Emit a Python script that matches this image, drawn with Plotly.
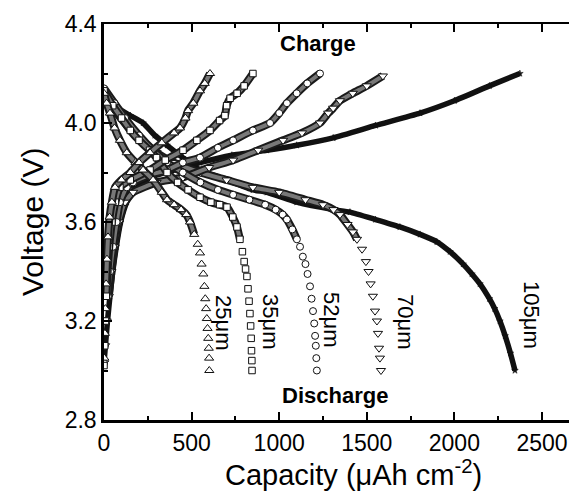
import plotly.graph_objects as go

# ---------------- data ----------------
cells = ["25μm", "35μm", "52μm", "70μm", "105μm"]

dis_cap_25 = [0, 15, 34, 60, 91, 130, 180, 223, 280, 330, 360, 400, 440, 470, 491, 515, 535, 548, 557, 567, 573, 578, 583, 587, 591, 595, 598, 600, 601]
dis_v_25 = [4.12, 4.08, 4.04, 3.98, 3.93, 3.88, 3.84, 3.81, 3.77, 3.72, 3.69, 3.67, 3.65, 3.63, 3.60, 3.55, 3.51, 3.475, 3.43, 3.39, 3.34, 3.29, 3.25, 3.21, 3.17, 3.13, 3.09, 3.05, 3.00]
chg_cap_25 = [2, 5, 8, 12, 17, 23, 32, 45, 63, 100, 150, 200, 263, 330, 400, 434, 465, 480, 510, 548, 575, 605]
chg_v_25 = [3.05, 3.15, 3.25, 3.35, 3.45, 3.54, 3.62, 3.68, 3.74, 3.77, 3.80, 3.84, 3.88, 3.92, 3.96, 3.98, 4.02, 4.05, 4.08, 4.13, 4.16, 4.20]

dis_cap_35 = [0, 50, 100, 150, 200, 260, 300, 360, 420, 480, 548, 610, 660, 702, 735, 759, 776, 790, 800, 808, 816, 822, 828, 833, 837, 840, 842, 844, 845]
dis_v_35 = [4.13, 4.07, 4.02, 3.97, 3.93, 3.89, 3.86, 3.80, 3.76, 3.73, 3.70, 3.68, 3.67, 3.66, 3.62, 3.58, 3.53, 3.48, 3.44, 3.41, 3.38, 3.33, 3.28, 3.23, 3.18, 3.13, 3.08, 3.04, 3.00]
chg_cap_35 = [0, 4, 8, 13, 20, 30, 45, 65, 91, 150, 263, 350, 451, 530, 605, 660, 690, 700, 720, 760, 800, 850]
chg_v_35 = [3.02, 3.10, 3.20, 3.30, 3.40, 3.50, 3.60, 3.68, 3.74, 3.77, 3.81, 3.85, 3.89, 3.93, 3.97, 4.01, 4.03, 4.07, 4.10, 4.12, 4.15, 4.20]

dis_cap_52 = [0, 60, 120, 200, 280, 360, 450, 550, 650, 737, 830, 920, 980, 1020, 1044, 1075, 1101, 1119, 1135, 1150, 1162, 1176, 1185, 1193, 1200, 1205, 1209, 1212, 1215]
dis_v_52 = [4.14, 4.08, 4.02, 3.95, 3.89, 3.84, 3.80, 3.76, 3.73, 3.71, 3.69, 3.67, 3.65, 3.63, 3.61, 3.57, 3.53, 3.50, 3.46, 3.43, 3.39, 3.34, 3.29, 3.24, 3.19, 3.14, 3.10, 3.05, 3.00]
chg_cap_52 = [0, 5, 12, 22, 35, 52, 72, 91, 130, 166, 260, 360, 450, 548, 650, 737, 850, 948, 1000, 1044, 1100, 1160, 1233]
chg_v_52 = [3.03, 3.10, 3.20, 3.30, 3.40, 3.50, 3.60, 3.68, 3.74, 3.76, 3.79, 3.81, 3.84, 3.86, 3.90, 3.93, 3.97, 4.00, 4.04, 4.08, 4.12, 4.16, 4.20]

dis_cap_70 = [0, 60, 130, 200, 300, 400, 550, 700, 850, 1000, 1150, 1250, 1310, 1347, 1390, 1421, 1444, 1473, 1495, 1510, 1522, 1535, 1547, 1558, 1564, 1570, 1575, 1581]
dis_v_70 = [4.10, 4.05, 3.99, 3.94, 3.88, 3.84, 3.80, 3.77, 3.74, 3.72, 3.69, 3.67, 3.65, 3.63, 3.59, 3.56, 3.53, 3.49, 3.44, 3.40, 3.35, 3.30, 3.24, 3.20, 3.15, 3.09, 3.05, 3.00]
chg_cap_70 = [0, 6, 15, 27, 42, 60, 85, 120, 166, 300, 451, 600, 737, 880, 1022, 1130, 1233, 1280, 1308, 1347, 1420, 1500, 1592]
chg_v_70 = [3.03, 3.10, 3.20, 3.30, 3.40, 3.50, 3.60, 3.68, 3.72, 3.76, 3.78, 3.82, 3.85, 3.89, 3.93, 3.96, 4.00, 4.04, 4.06, 4.09, 4.12, 4.15, 4.19]

dis_cap_105 = [0, 17, 80, 150, 223, 290, 360, 450, 548, 700, 850, 930, 1100, 1308, 1404, 1550, 1689, 1804, 1900, 1975, 2050, 2100, 2146, 2200, 2230, 2260, 2290, 2320, 2346]
dis_v_105 = [4.13, 4.11, 4.06, 4.03, 4.00, 3.95, 3.91, 3.86, 3.81, 3.77, 3.73, 3.72, 3.68, 3.65, 3.64, 3.61, 3.58, 3.55, 3.52, 3.48, 3.43, 3.39, 3.35, 3.29, 3.25, 3.20, 3.14, 3.07, 3.00]
chg_cap_105 = [0, 8, 20, 34, 50, 70, 95, 130, 180, 263, 400, 548, 730, 930, 1100, 1308, 1550, 1804, 2000, 2200, 2374]
chg_v_105 = [3.03, 3.10, 3.20, 3.30, 3.40, 3.50, 3.60, 3.68, 3.74, 3.78, 3.81, 3.84, 3.87, 3.89, 3.91, 3.94, 3.99, 4.04, 4.09, 4.15, 4.20]

x_ticks = [0, 500, 1000, 1500, 2000, 2500]
y_ticks = [2.8, 3.2, 3.6, 4.0, 4.4]

curves = [
    (dis_cap_105, dis_v_105, chg_cap_105, chg_v_105),
    (dis_cap_70, dis_v_70, chg_cap_70, chg_v_70),
    (dis_cap_52, dis_v_52, chg_cap_52, chg_v_52),
    (dis_cap_35, dis_v_35, chg_cap_35, chg_v_35),
    (dis_cap_25, dis_v_25, chg_cap_25, chg_v_25),
]
symbols = ["star", "triangle-down", "circle", "square", "triangle-up"]
msizes = [5, 8, 7, 6.5, 8]

fig = go.Figure()

def band(xs, ys, star, vmin):
    bx = [x for x, y in zip(xs, ys) if y >= vmin]
    by = [y for y in ys if y >= vmin]
    if star:
        fig.add_trace(go.Scatter(x=bx, y=by, mode="lines", line=dict(color="#111111", width=5.5, shape="spline", smoothing=0.5), hoverinfo="skip", showlegend=False))
    else:
        fig.add_trace(go.Scatter(x=bx, y=by, mode="lines", line=dict(color="#1a1a1a", width=8, shape="spline", smoothing=0.5), hoverinfo="skip", showlegend=False))
        fig.add_trace(go.Scatter(x=bx, y=by, mode="lines", line=dict(color="#787878", width=4, shape="spline", smoothing=0.5), hoverinfo="skip", showlegend=False))

for (dc, dv, cc, cv), sym, ms in zip(curves, symbols, msizes):
    star = sym == "star"
    for xs, ys, vmin in ((dc, dv, 3.0 if star else 3.52), (cc, cv, 3.0 if star else 3.3)):
        band(xs, ys, star, vmin)
        if star:
            mk = dict(symbol="star", size=ms, color="#111111", line=dict(color="#111111", width=0.5))
        else:
            mk = dict(symbol=sym, size=ms, color="white", line=dict(color="#111111", width=1))
        fig.add_trace(go.Scatter(x=xs, y=ys, mode="markers", marker=mk, showlegend=False))

# invisible trace for the top axis
fig.add_trace(go.Scatter(x=[0], y=[3.0], xaxis="x2", mode="markers", marker=dict(opacity=0), showlegend=False, hoverinfo="skip"))

font = "Liberation Sans, Arial, sans-serif"
# the page body adds an 8px offset, so margins are shifted to place the plot area
fig.update_layout(
    width=577, height=491,
    margin=dict(l=96, r=8, t=16, b=79, autoexpand=False),
    paper_bgcolor="white", plot_bgcolor="white",
    showlegend=False,
    font=dict(family=font, color="black"),
    xaxis=dict(range=[0, 2700], tickvals=x_ticks, ticktext=[str(v) for v in x_ticks], automargin=False,
               showgrid=False, zeroline=False, showline=True, linecolor="black", linewidth=3,
               ticks="inside", ticklen=8, tickwidth=1.5, tickcolor="black",
               minor=dict(ticks="inside", ticklen=4, tickwidth=1.5, dtick=250, tickcolor="black", showgrid=False),
               tickfont=dict(size=23, family=font), ticklabelstandoff=0),
    xaxis2=dict(range=[0, 2700], overlaying="x", side="top", tickvals=x_ticks, showticklabels=False, automargin=False,
                showgrid=False, zeroline=False, showline=True, linecolor="black", linewidth=1.5,
                ticks="inside", ticklen=8, tickwidth=1.5, tickcolor="black",
                minor=dict(ticks="inside", ticklen=4, tickwidth=1.5, dtick=250, tickcolor="black", showgrid=False)),
    yaxis=dict(range=[2.8, 4.4], tickvals=y_ticks, ticktext=[f"{v:.1f}" for v in y_ticks], automargin=False,
               showgrid=False, zeroline=False, showline=True, linecolor="black", linewidth=2.5,
               ticks="inside", ticklen=8, tickwidth=1.5, tickcolor="black",
               minor=dict(ticks="inside", ticklen=4, tickwidth=1.5, dtick=0.2, tickcolor="black", showgrid=False),
               tickfont=dict(size=23, family=font), ticklabelstandoff=0),
)

ann = [
    dict(text="<b>Charge</b>", x=1221, y=4.323, size=22, angle=0),
    dict(text="<b>Discharge</b>", x=1318, y=2.901, size=22, angle=0),
    dict(text="25μm", x=679, y=3.192, size=22, angle=90),
    dict(text="35μm", x=947, y=3.196, size=22, angle=90),
    dict(text="52μm", x=1301, y=3.204, size=22, angle=90),
    dict(text="70μm", x=1718, y=3.196, size=22, angle=90),
    dict(text="105μm", x=2443, y=3.224, size=22, angle=90),
]
for a in ann:
    fig.add_annotation(x=a["x"], y=a["y"], xref="x", yref="y", text=a["text"], showarrow=False,
                       textangle=a["angle"], font=dict(size=a["size"], family=font, color="black"),
                       xanchor="center", yanchor="middle")

# axis titles
fig.add_annotation(x=(32 - 104) / 473, y=(420 - 222) / 396, xref="paper", yref="paper",
                   text="Voltage (V)", showarrow=False, textangle=-90,
                   font=dict(size=30, family=font, color="black"), xanchor="center", yanchor="middle")
fig.add_annotation(x=(353 - 104) / 473, y=(420 - 473) / 396, xref="paper", yref="paper",
                   text="Capacity (μAh cm<sup>-2</sup>)", showarrow=False,
                   font=dict(size=29, family=font, color="black"), xanchor="center", yanchor="middle")

fig.write_html("out.html")
